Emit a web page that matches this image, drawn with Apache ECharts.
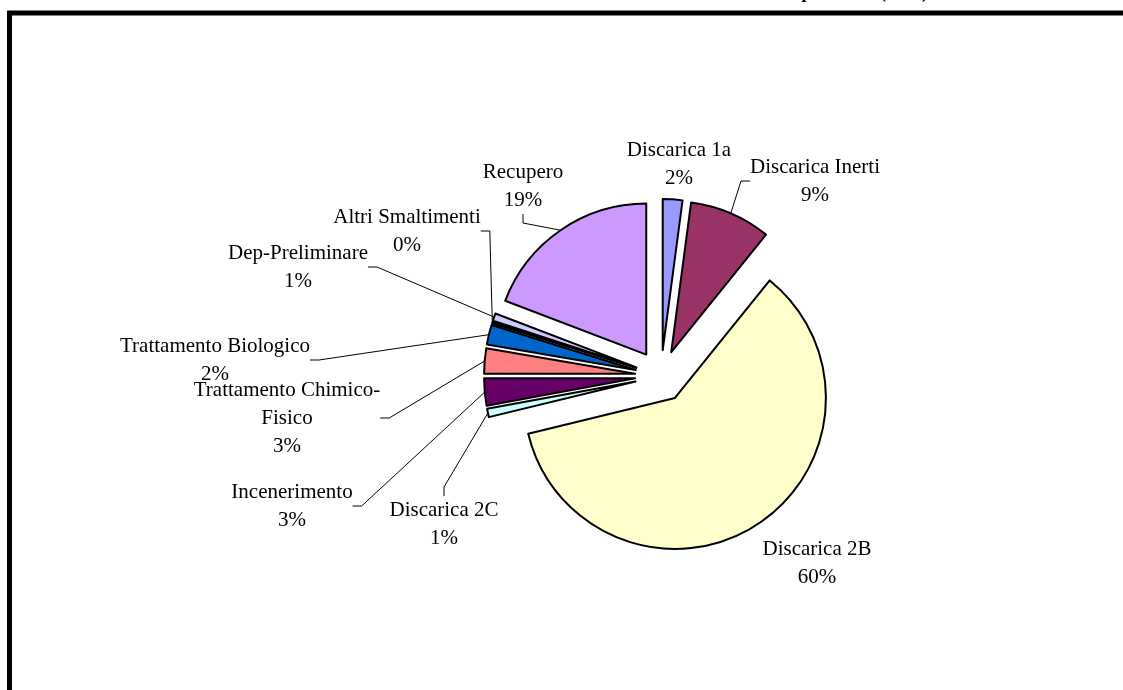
<!DOCTYPE html>
<html>
<head>
<meta charset="utf-8">
<script src="https://cdn.jsdelivr.net/npm/echarts@6/dist/echarts.min.js"></script>
<style>
html,body{margin:0;padding:0;background:#fff;}
#chart{width:1123px;height:690px;}
</style>
</head>
<body>
<div id="chart"></div>
<script>
// ---- data ----
var categories = ['Discarica 1a', 'Discarica Inerti', 'Discarica 2B', 'Discarica 2C', 'Incenerimento',
  'Trattamento Chimico-Fisico', 'Trattamento Biologico', 'Altri Smaltimenti', 'Dep-Preliminare', 'Recupero'];
var values = [2.1, 8.7, 60.4, 0.9, 2.9, 2.7, 2.1, 0.2, 0.8, 19.2];
var titleText = 'Destinazione finale dei rifiuti non pericolosi (2003)';

// ---- styles / layout (not data) ----
var colors = ['#9999FF', '#993366', '#FFFFCC', '#CCFFFF', '#660066', '#FF8080', '#0066CC', '#000080', '#CCCCFF', '#CC99FF'];
var labelPos = [[679, 164], [815, 181], [817, 563], [444, 524], [292, 506], [287, 418], [215, 360], [407, 231], [298, 267], [523, 186]];
var showLine = [false, true, false, true, true, true, true, true, true, true];
var CX = 661, CY = 376, R = 151, EXPLODE = 26;

var total = values.reduce(function (a, b) { return a + b; }, 0);
var cum = 0;
var series = categories.map(function (name, i) {
  // explode each slice along its own bisector (Excel-style exploded pie)
  var mid = (cum + values[i] / 2) / total * 2 * Math.PI;
  cum += values[i];
  var center = [CX + EXPLODE * Math.sin(mid), CY - EXPLODE * Math.cos(mid)];
  return {
    type: 'pie',
    center: center,
    radius: [0, R],
    startAngle: 90,
    clockwise: true,
    silent: true,
    avoidLabelOverlap: false,
    label: {
      show: true, position: 'outside',
      fontFamily: 'Liberation Serif', fontSize: 21, lineHeight: 28, color: '#000',
      formatter: function (p) {
        return p.name.replace('Chimico-', 'Chimico-\n') + '\n' + Math.round(p.percent) + '%';
      }
    },
    labelLine: {show: true, length: 10, length2: 9, lineStyle: {color: '#000', width: 1}},
    labelLayout: function (p) {
      var q = labelPos[p.dataIndex];
      return {x: q[0], y: q[1], align: 'center', verticalAlign: 'middle'};
    },
    data: categories.map(function (c, j) {
      var on = (j === i);
      return {
        name: c, value: values[j],
        itemStyle: on ? {color: colors[j], borderColor: '#000', borderWidth: 2}
                      : {color: 'rgba(0,0,0,0)', borderWidth: 0},
        label: {show: on},
        labelLine: {show: on && showLine[j]}
      };
    })
  };
});

var chart = echarts.init(document.getElementById('chart'));
chart.setOption({
  animation: false,
  backgroundColor: '#fff',
  title: {
    text: titleText, right: 190, top: -21,
    textStyle: {fontFamily: 'Liberation Serif', fontWeight: 'bold', fontSize: 18, color: '#000'}
  },
  graphic: [{
    type: 'rect', silent: true, z: 100,
    shape: {x: 9.5, y: 13, width: 1300, height: 900},
    style: {fill: 'none', stroke: '#000', lineWidth: 5}
  }],
  series: series
});
</script>
</body>
</html>
